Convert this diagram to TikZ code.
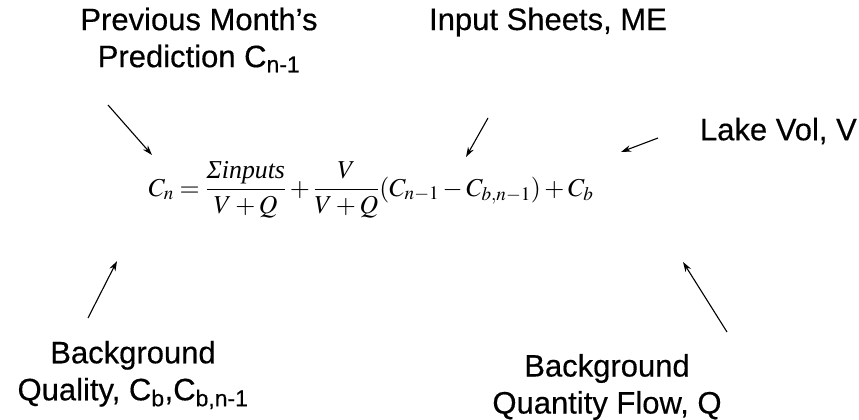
\documentclass[tikz,border=0pt]{standalone}
\usepackage{amsmath}
\usepackage{mathptmx}
\usepackage{fontspec}
\setmainfont{Liberation Sans}
\newfontfamily\lblfont{Liberation Sans}[FakeBold=0.4]
\newfontfamily\tnr{Liberation Serif}
\usetikzlibrary{arrows.meta}
\tikzset{
  lbl/.style={font=\fontsize{31}{37}\lblfont, align=center, inner sep=0pt},
  feed/.style={-{Stealth[length=10pt,width=6.5pt]}, line width=1.1pt},
}
\begin{document}
\begin{tikzpicture}[x=1pt,y=-1pt]
\useasboundingbox (0,0) rectangle (859,420);
\node[lbl] (prev) at (199,40) {Previous Month’s\\Prediction C\textsubscript{n-1}};
\node[lbl] (input) at (548,22) {Input Sheets, ME};
\node[lbl,anchor=east] (lake) at (857,131) {Lake Vol, V};
\node[lbl] (bgq) at (133,375) {Background\\Quality, C\textsubscript{b},C\textsubscript{b,n-1}};
\node[lbl] (bgf) at (607,387) {Background\\Quantity Flow, Q};
\node[inner sep=0pt] (eq) at (371,190) {\fontsize{25.8}{30}\selectfont
  $C_n=\dfrac{\hbox{\tnr\itshape Σinputs}}{V+Q}+\dfrac{V}{V+Q}(C_{n-1}-C_{b,n-1})+C_b$};
\coordinate (p1) at (108,105); \coordinate (p2) at (152,155);
\coordinate (i1) at (488,118); \coordinate (i2) at (466,157);
\coordinate (l1) at (658,138); \coordinate (l2) at (621,152);
\coordinate (q1) at (88,318);  \coordinate (q2) at (117,261);
\coordinate (f1) at (727,332); \coordinate (f2) at (683,262);
\draw[feed] (p1) -- (p2);
\draw[feed] (i1) -- (i2);
\draw[feed] (l1) -- (l2);
\draw[feed] (q1) -- (q2);
\draw[feed] (f1) -- (f2);
\end{tikzpicture}
\end{document}
